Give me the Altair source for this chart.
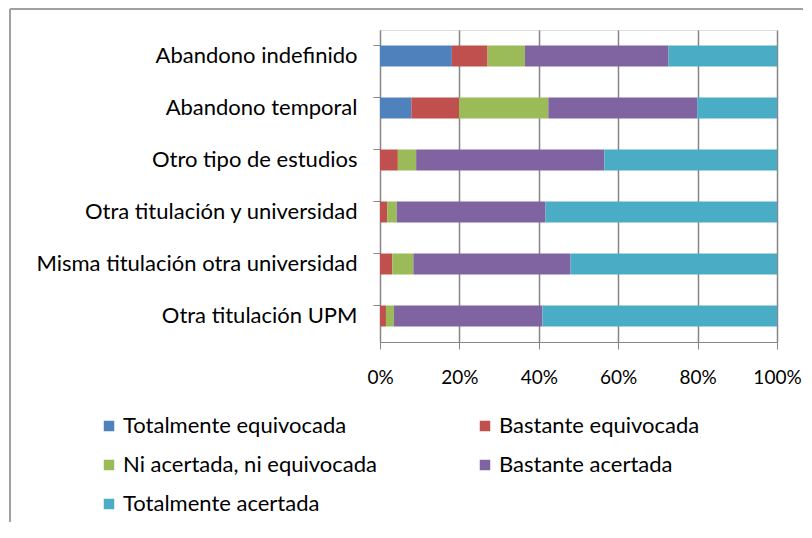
import altair as alt
import pandas as pd

categories = [
    "Abandono indefinido",
    "Abandono temporal",
    "Otro tipo de estudios",
    "Otra titulación y universidad",
    "Misma titulación otra universidad",
    "Otra titulación UPM",
]
series = [
    "Totalmente equivocada",
    "Bastante equivocada",
    "Ni acertada, ni equivocada",
    "Bastante acertada",
    "Totalmente acertada",
]
colors = ["#4F81BD", "#C0504D", "#9BBB59", "#8064A2", "#4BACC6"]

totalmente_equivocada = [18.1, 7.9, 0.0, 0.0, 0.0, 0.0]
bastante_equivocada = [9.0, 12.0, 4.5, 1.8, 3.1, 1.5]
ni_acertada = [9.4, 22.5, 4.6, 2.4, 5.3, 2.0]
bastante_acertada = [36.2, 37.5, 47.4, 37.5, 39.6, 37.4]
totalmente_acertada = [27.3, 20.1, 43.5, 58.3, 52.0, 59.1]

values = [totalmente_equivocada, bastante_equivocada, ni_acertada,
          bastante_acertada, totalmente_acertada]

rows = []
for si, s in enumerate(series):
    for ci, c in enumerate(categories):
        rows.append({"categoria": c, "serie": s, "orden": si, "valor": values[si][ci]})
df = pd.DataFrame(rows)

FONT = "Lato"

bars = alt.Chart(df).mark_bar(size=21).encode(
    y=alt.Y("categoria:N", sort=categories, title=None,
            scale=alt.Scale(paddingInner=0.6, paddingOuter=0.3),
            axis=alt.Axis(labelFont=FONT, labelFontSize=22, labelColor="#000000",
                          labelPadding=16, labelLimit=500, domainColor="#868686",
                          tickColor="#868686", tickSize=7, bandPosition=0, grid=False)),
    x=alt.X("valor:Q", stack="normalize", title=None,
            scale=alt.Scale(domain=[0, 1]),
            axis=alt.Axis(format="%", values=[0, 0.2, 0.4, 0.6, 0.8, 1.0],
                          labelFont=FONT, labelFontSize=19, labelColor="#000000",
                          labelPadding=19, labelFlush=False, domainColor="#868686",
                          tickColor="#868686", tickSize=7, grid=True,
                          gridColor="#868686", gridWidth=1.5)),
    color=alt.Color("serie:N", sort=series,
                    scale=alt.Scale(domain=series, range=colors),
                    legend=alt.Legend(title=None, orient="none", legendX=-282, legendY=385,
                                      direction="horizontal",
                                      columns=2, columnPadding=97, rowPadding=17,
                                      symbolType="square", symbolSize=110,
                                      symbolStrokeWidth=0, labelFont=FONT,
                                      labelFontSize=22, labelColor="#000000",
                                      labelOffset=3, labelLimit=400, symbolOffset=0)),
    order=alt.Order("orden:Q"),
)

frame_top = alt.Chart().mark_rule(color="#A0A0A0", strokeWidth=2).encode(
    x=alt.value(-370), x2=alt.value(425), y=alt.value(-21))
frame_left = alt.Chart().mark_rule(color="#A0A0A0", strokeWidth=2).encode(
    x=alt.value(-370), y=alt.value(-21), y2=alt.value(510))

chart = alt.layer(frame_top, frame_left, bars).properties(
    width=397, height=312,
    autosize=alt.AutoSizeParams(type="none"),
    padding={"left": 372, "top": 22, "right": 26, "bottom": 180},
).configure_view(stroke=None).configure(background="white")

chart.save("out.html", embed_options={"renderer": "svg", "actions": False})
